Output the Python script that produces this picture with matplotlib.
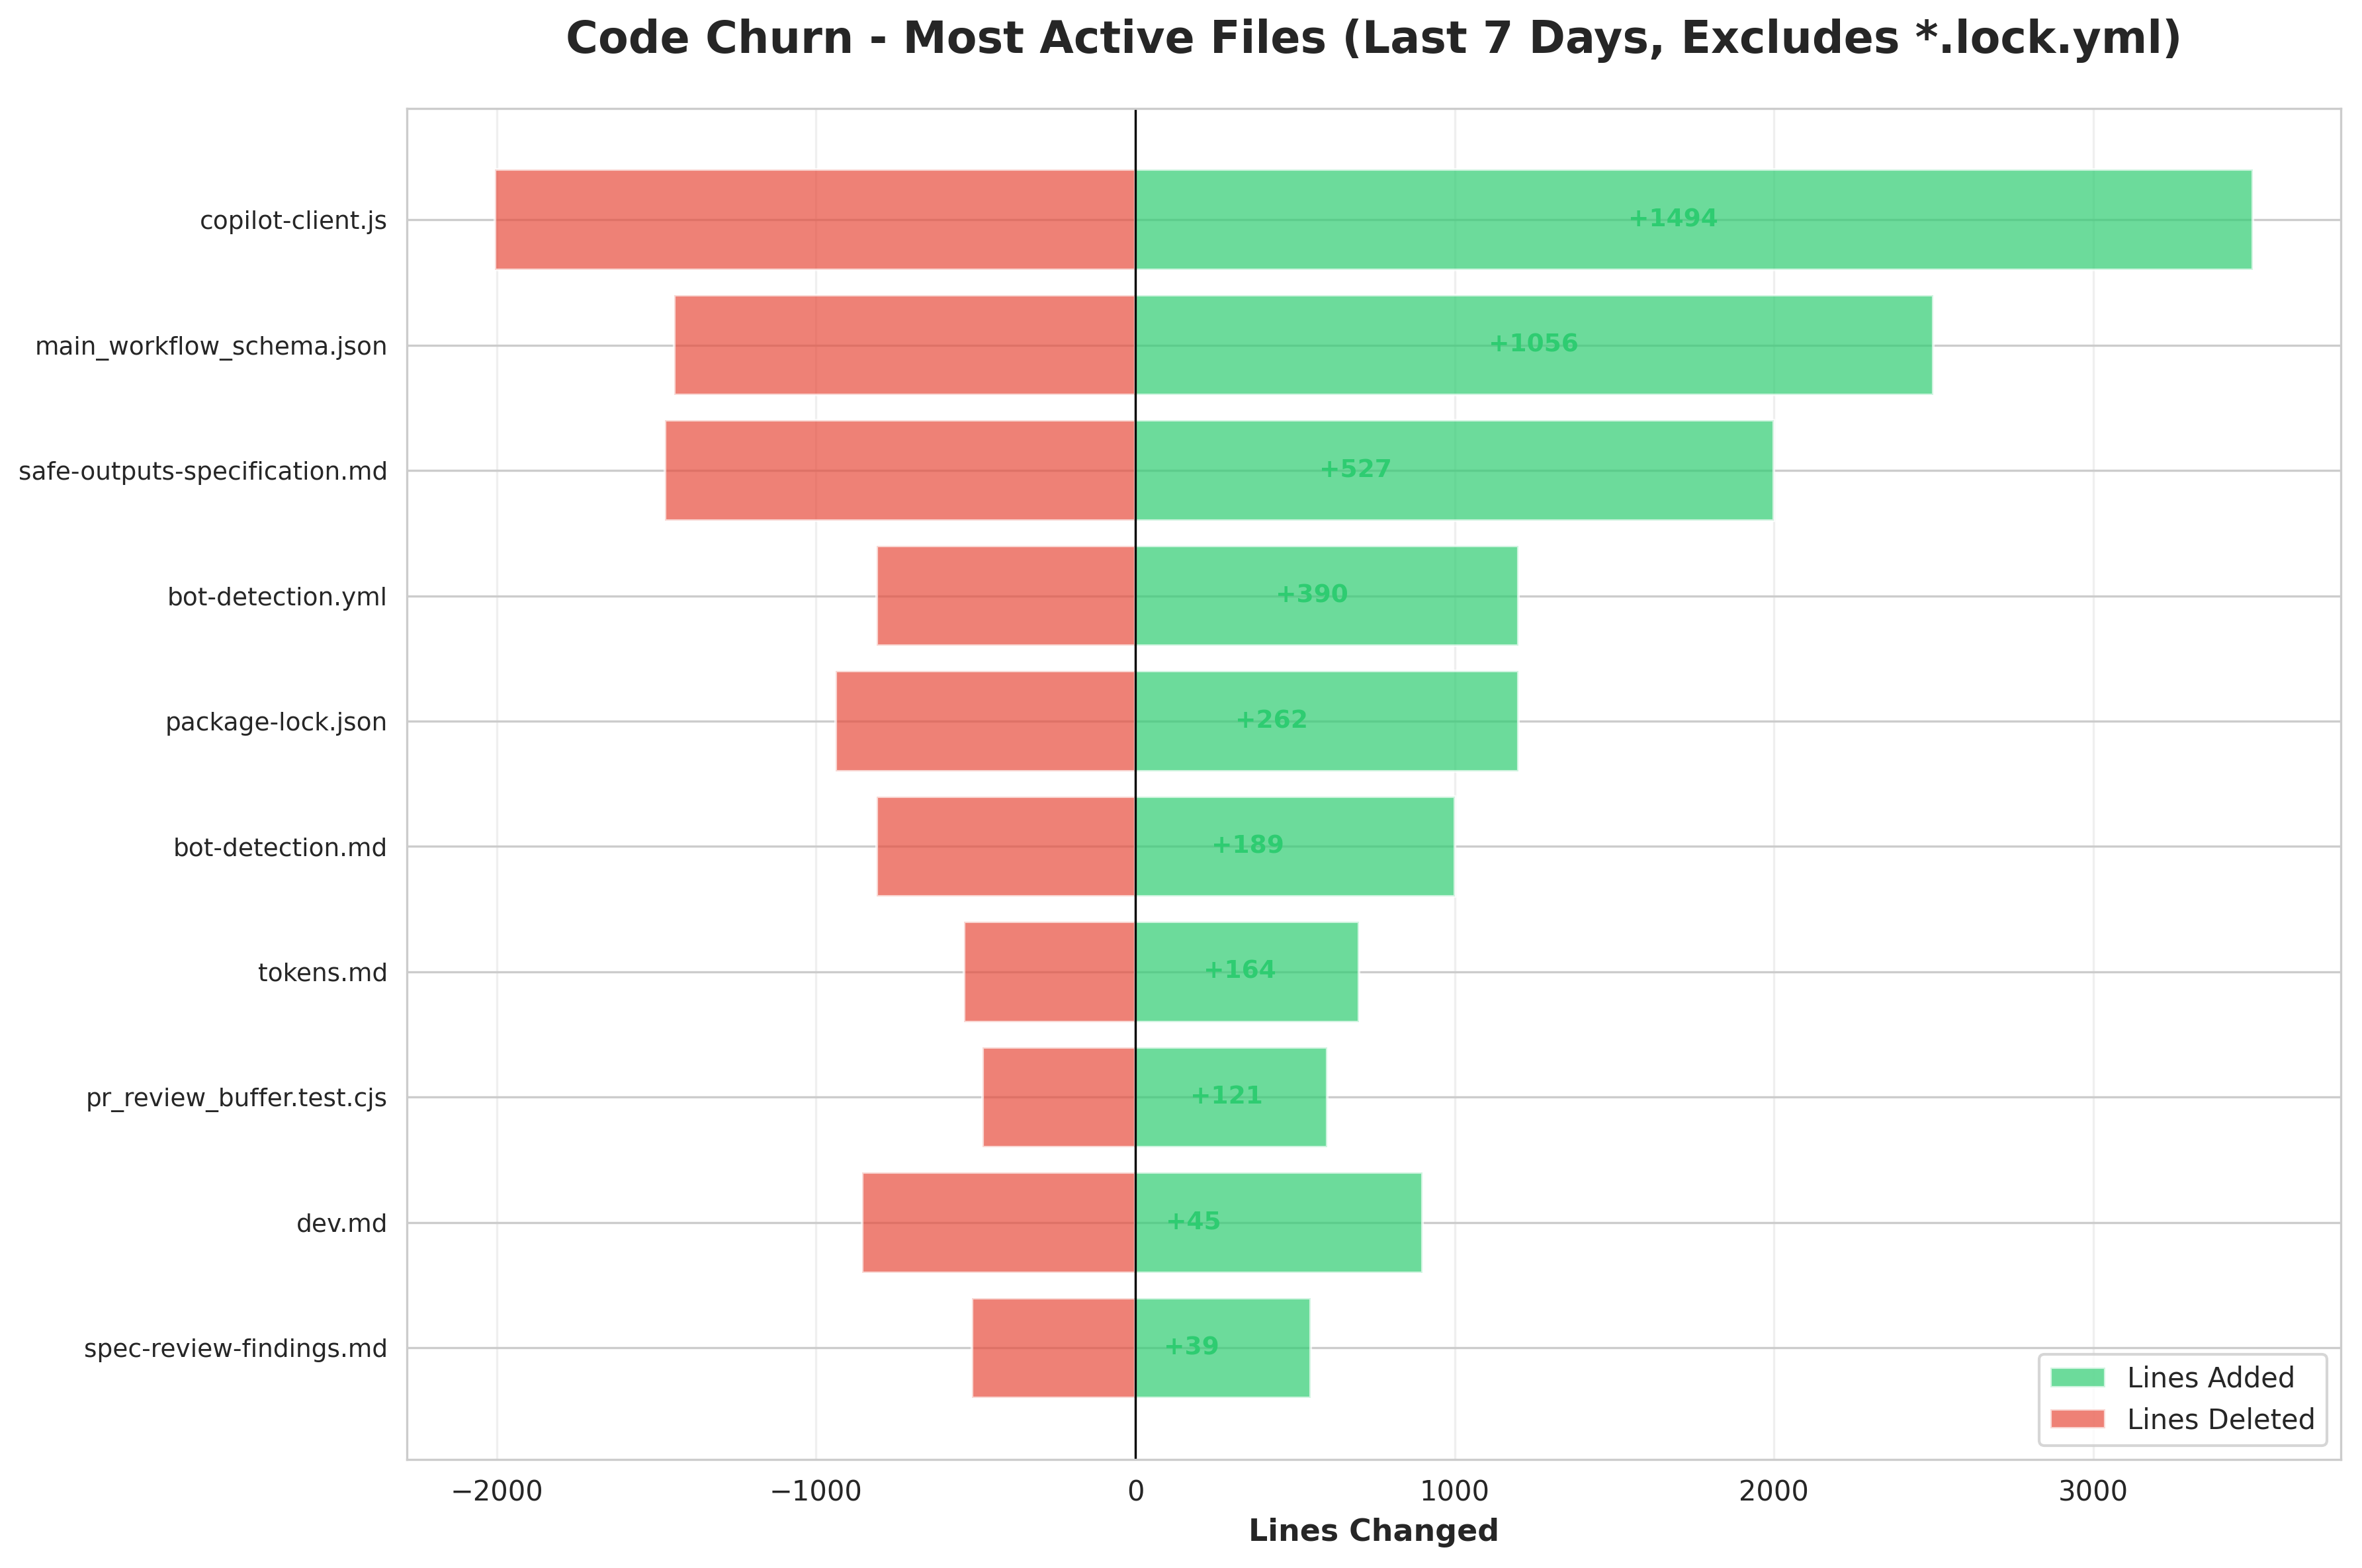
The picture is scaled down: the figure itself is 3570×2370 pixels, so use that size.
import matplotlib
matplotlib.use('Agg')
import matplotlib.pyplot as plt
import seaborn as sns
import numpy as np

files = [
    'copilot-client.js',
    'main_workflow_schema.json',
    'safe-outputs-specification.md',
    'bot-detection.yml',
    'package-lock.json',
    'bot-detection.md',
    'tokens.md',
    'pr_review_buffer.test.cjs',
    'dev.md',
    'spec-review-findings.md',
]
lines_added = [3500, 2500, 2000, 1200, 1200, 1000, 700, 600, 900, 550]
lines_deleted = [2006, 1444, 1473, 810, 938, 811, 536, 479, 855, 511]

sns.set_style('whitegrid')
plt.rcParams['font.family'] = ['DejaVu Sans']

fig, ax = plt.subplots(figsize=(11.9, 7.9), dpi=300)
y = np.arange(len(files))
ax.barh(y, lines_added, color='#2ecc71', alpha=0.7, label='Lines Added')
ax.barh(y, [-d for d in lines_deleted], color='#e74c3c', alpha=0.7, label='Lines Deleted')
ax.axvline(0, color='black', linewidth=0.8)

for i, (a, d) in enumerate(zip(lines_added, lines_deleted)):
    net = a - d
    label = f'+{net}' if net > 0 else f'{net}'
    ax.text(net + 50, i, label, va='center', ha='left', fontsize=9,
            fontweight='bold', color='#2ecc71' if net > 0 else '#e74c3c')

ax.set_yticks(y)
ax.set_yticklabels(files, fontsize=9)
ax.invert_yaxis()
ax.set_xlabel('Lines Changed', fontsize=11, fontweight='bold')
ax.set_title('Code Churn - Most Active Files (Last 7 Days, Excludes *.lock.yml)',
             fontsize=16, fontweight='bold', pad=20)
ax.legend(loc='lower right')
ax.grid(axis='x', alpha=0.3)

fig.subplots_adjust(left=0.1723, right=0.991, top=0.931, bottom=0.0692)
fig.savefig('out.png', dpi=300)
